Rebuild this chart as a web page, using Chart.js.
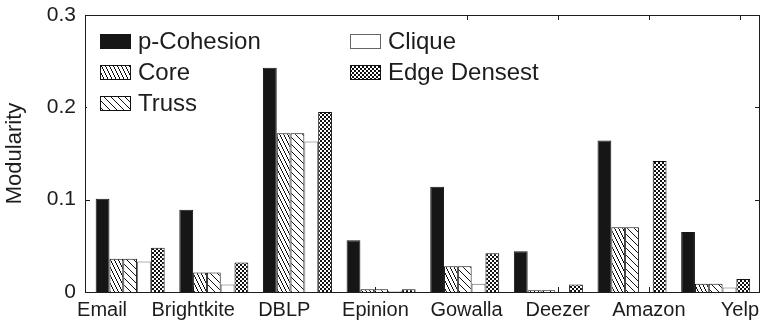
<!DOCTYPE html>
<html>
<head>
<meta charset="utf-8">
<script src="https://cdn.jsdelivr.net/npm/chart.js@4/dist/chart.umd.min.js"></script>
<style>
  html, body { margin: 0; padding: 0; background: #fff; }
  canvas { display: block; }
</style>
</head>
<body>
<canvas id="c" width="760" height="324"></canvas>
<script>
// Modularity of the community found by each method, per dataset
const categories  = ['Email', 'Brightkite', 'DBLP', 'Epinion', 'Gowalla', 'Deezer', 'Amazon', 'Yelp'];
const pCohesion   = [0.101, 0.089, 0.243, 0.056, 0.114, 0.044, 0.164, 0.065];
const core        = [0.036, 0.021, 0.172, 0.003, 0.028, 0.002, 0.070, 0.009];
const truss       = [0.036, 0.021, 0.172, 0.003, 0.028, 0.002, 0.070, 0.009];
const clique      = [0.033, 0.008, 0.163, 0.001, 0.009, 0.000, 0.000, 0.005];
const edgeDensest = [0.048, 0.032, 0.195, 0.003, 0.042, 0.008, 0.142, 0.014];
const seriesNames = ['p-Cohesion', 'Core', 'Truss', 'Clique', 'Edge Densest'];
const yTickLabels = ['0', '0.1', '0.2', '0.3'];

const FONT = "'Liberation Sans', Arial, Helvetica, sans-serif";
const INK = '#1c1c1c';

const canvas = document.getElementById('c');
const ctx = canvas.getContext('2d');

// small repeating hatch tiles
function hatch(w, h, isDark) {
  const t = document.createElement('canvas');
  t.width = w; t.height = h;
  const g = t.getContext('2d');
  g.fillStyle = '#fff';
  g.fillRect(0, 0, w, h);
  g.fillStyle = '#111';
  for (let y = 0; y < h; y++)
    for (let x = 0; x < w; x++)
      if (isDark(x, y)) g.fillRect(x, y, 1, 1);
  return ctx.createPattern(t, 'repeat');
}
const mod = (a, m) => ((a % m) + m) % m;
const denseDiag  = hatch(4, 8, (x, y) => mod(2 * x - y, 8) < 2);
const sparseDiag = hatch(7, 7, (x, y) => mod(x - y, 7) === 0);
const checker    = hatch(4, 4, (x, y) => ((x >> 1) + (y >> 1)) % 2 === 0);

const toPoints = arr => arr.map((v, i) => ({ x: i, y: v }));

const styles = [
  { backgroundColor: '#161616', borderColor: '#161616' },
  { backgroundColor: denseDiag, borderColor: '#111' },
  { backgroundColor: sparseDiag, borderColor: '#111' },
  { backgroundColor: '#ffffff', borderColor: '#666' },
  { backgroundColor: checker, borderColor: '#111' }
];
const values = [pCohesion, core, truss, clique, edgeDensest];

const datasets = values.map((arr, k) => ({
  label: seriesNames[k],
  data: toPoints(arr),
  backgroundColor: styles[k].backgroundColor,
  borderColor: styles[k].borderColor,
  borderWidth: 1,
  categoryPercentage: 0.825,
  barPercentage: 1.0
}));

// legend placement inside the plot (two columns)
const legendLayout = {
  colX: [100, 350], rowY: [41, 72, 103],
  swatchW: 31, swatchH: 15, gap: 7, fontSize: 24
};

const framePlugin = {
  id: 'frameAndKey',
  beforeDatasetsDraw(chart) {
    const { ctx: c, chartArea: a, scales } = chart;
    c.save();
    c.strokeStyle = INK;
    c.lineWidth = 1;
    c.beginPath();
    scales.xl.ticks.forEach(t => {
      const x = Math.round(scales.xl.getPixelForValue(t.value)) + 0.5;
      c.moveTo(x, a.bottom); c.lineTo(x, a.bottom - 5);
      c.moveTo(x, a.top); c.lineTo(x, a.top + 5);
    });
    scales.y.ticks.forEach(t => {
      const y = Math.round(scales.y.getPixelForValue(t.value)) + 0.5;
      c.moveTo(a.left, y); c.lineTo(a.left + 5, y);
      c.moveTo(a.right, y); c.lineTo(a.right - 5, y);
    });
    c.stroke();

    // key background
    c.fillStyle = '#fff';
    c.fillRect(a.left + 2, a.top + 1, 462 - a.left, 104);

    const L = legendLayout;
    c.font = L.fontSize + 'px ' + FONT;
    c.textBaseline = 'middle';
    c.textAlign = 'left';
    chart.data.datasets.forEach((ds, i) => {
      const col = i < 3 ? 0 : 1;
      const row = i < 3 ? i : i - 3;
      const x = L.colX[col];
      const yc = L.rowY[row];
      const y0 = Math.round(yc - L.swatchH / 2);
      c.fillStyle = ds.backgroundColor;
      c.fillRect(x, y0, L.swatchW, L.swatchH);
      c.strokeStyle = ds.borderColor;
      c.strokeRect(x + 0.5, y0 + 0.5, L.swatchW - 1, L.swatchH - 1);
      c.fillStyle = INK;
      c.fillText(ds.label, x + L.swatchW + L.gap, yc + 1);
    });
    c.restore();
  },
  afterDatasetsDraw(chart) {
    const { ctx: c, chartArea: a } = chart;
    c.save();
    c.strokeStyle = INK;
    c.lineWidth = 1;
    c.strokeRect(a.left + 0.5, a.top + 0.5, a.right - a.left - 1, a.bottom - a.top);
    c.restore();
  }
};

const integerTicks = s => { s.ticks = categories.map((_, i) => ({ value: i })); };

new Chart(ctx, {
  type: 'bar',
  data: { datasets },
  options: {
    responsive: false,
    animation: false,
    devicePixelRatio: 1,
    layout: { padding: { top: 15, right: 0, left: 0, bottom: 0 } },
    plugins: { legend: { display: false }, tooltip: { enabled: false } },
    font: { family: FONT },
    scales: {
      x: {
        type: 'linear',
        display: false,
        offset: false,
        min: -0.54,
        max: 7.53,
        afterBuildTicks: integerTicks,
        grid: { display: false }
      },
      xl: {
        type: 'linear',
        position: 'bottom',
        offset: false,
        min: -0.187,
        max: 7.22,
        afterBuildTicks: integerTicks,
        afterFit: s => { s.height = 32; s.paddingLeft = 0; s.paddingRight = 0; },
        grid: { display: false, drawTicks: false },
        border: { display: false },
        ticks: {
          autoSkip: false,
          maxRotation: 0,
          padding: 6,
          color: INK,
          font: { family: FONT, size: 20 },
          callback: v => categories[v]
        }
      },
      y: {
        min: 0,
        max: 0.3,
        afterFit: s => { s.width = 85; s.paddingTop = 0; s.paddingBottom = 0; },
        grid: { display: false, drawTicks: false },
        border: { display: false },
        ticks: {
          stepSize: 0.1,
          padding: 9,
          color: INK,
          font: { family: FONT, size: 21 },
          callback: (v, i) => yTickLabels[i]
        },
        title: {
          display: true,
          text: 'Modularity',
          color: INK,
          font: { family: FONT, size: 22 },
          padding: { top: 2, bottom: 0 }
        }
      }
    }
  },
  plugins: [framePlugin]
});
</script>
</body>
</html>
